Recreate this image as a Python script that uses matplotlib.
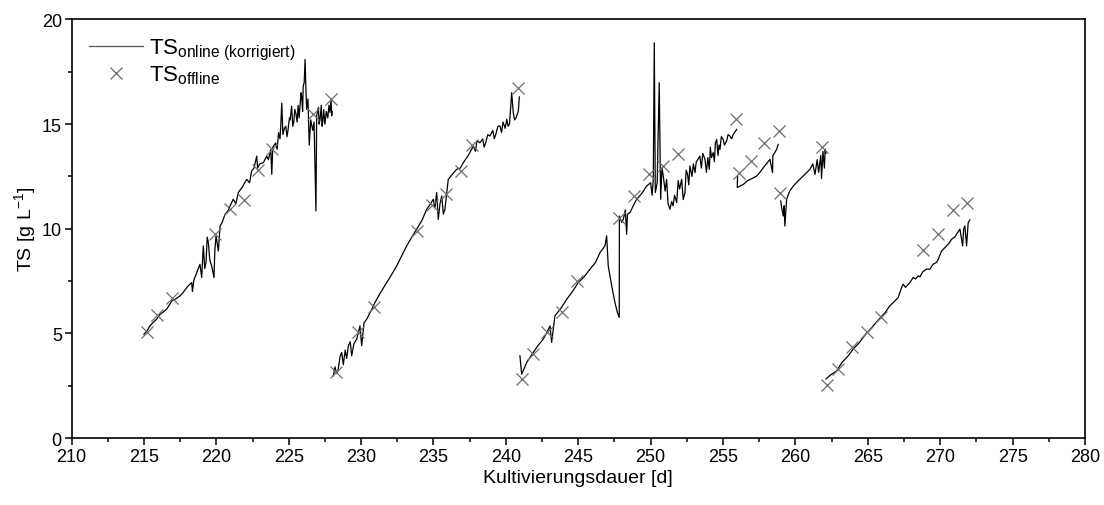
import numpy as np
import matplotlib.pyplot as plt
from matplotlib.ticker import MultipleLocator

plt.rcParams['font.family'] = ['Liberation Sans', 'DejaVu Sans']
plt.rcParams['mathtext.fontset'] = 'custom'
plt.rcParams['mathtext.rm'] = 'Liberation Sans'
plt.rcParams['mathtext.it'] = 'Liberation Sans'

# online TS signal (corrected), one run per cultivation cycle
run1_day = [215.0, 215.19, 215.4, 215.6, 215.88, 216.1, 216.3, 216.57, 216.75, 216.92,
            217.2, 217.49, 217.7, 217.96, 218.1, 218.3, 218.35, 218.45, 218.65, 218.87,
            218.99, 219.1, 219.2, 219.29, 219.37, 219.45, 219.55, 219.68, 219.84, 219.9,
            219.98, 220.14, 220.26, 220.4, 220.6, 220.8, 220.95, 221.17, 221.35, 221.52,
            221.8, 222.1, 222.3, 222.44, 222.6, 222.79, 222.85, 223.0, 223.25, 223.48,
            223.6, 223.76, 223.83, 223.9, 224.1, 224.2, 224.3, 224.4, 224.45, 224.52,
            224.6, 224.7, 224.8, 224.88, 224.95, 225.05, 225.1, 225.2, 225.28, 225.35,
            225.42, 225.5, 225.58, 225.65, 225.72, 225.78, 225.85, 225.9, 225.96, 226.0,
            226.07, 226.13, 226.2, 226.24, 226.33, 226.42, 226.52, 226.66, 226.75, 226.88,
            226.93, 227.05, 227.1, 227.16, 227.25, 227.3, 227.35, 227.42, 227.5, 227.6,
            227.7, 227.78, 227.85, 227.92, 227.97, 228.0]
run1_ts = [4.96, 5.1, 5.35, 5.5, 5.68, 5.9, 6.0, 6.16, 6.35, 6.55,
           6.65, 6.79, 6.95, 7.19, 7.3, 7.43, 7.0, 7.55, 7.91, 8.3,
           7.67, 9.18, 8.1, 8.39, 9.6, 9.34, 8.5, 8.22, 7.67, 9.0,
           9.66, 8.94, 10.13, 10.3, 10.69, 10.85, 11.09, 11.41, 11.2, 11.73,
           12.0, 12.36, 12.2, 12.76, 12.9, 13.47, 12.9, 13.1, 13.16, 13.47,
           13.3, 13.79, 12.6, 13.9, 14.1, 13.8, 14.6, 14.3, 14.9, 16.0,
           14.5, 14.8, 14.9, 14.4, 14.7, 15.3, 15.2, 15.86, 14.9, 15.1,
           15.7, 15.5, 15.1, 15.9, 15.3, 15.86, 16.5, 16.3, 15.6, 16.8,
           17.0, 18.09, 16.4, 15.7, 16.2, 14.0, 15.2, 14.7, 15.1, 10.85,
           15.4, 15.8, 15.0, 15.2, 15.9, 14.9, 15.1, 15.7, 15.0, 15.6,
           15.3, 15.9, 15.56, 16.2, 15.4, 15.6]

run2_day = [228.08, 228.2, 228.3, 228.4, 228.55, 228.66, 228.77, 228.9, 229.0, 229.12,
            229.25, 229.35, 229.5, 229.7, 229.92, 230.04, 230.2, 230.39, 230.7, 230.96,
            231.3, 231.77, 232.1, 232.46, 232.8, 233.15, 233.5, 233.84, 234.2, 234.53,
            234.8, 234.99, 235.1, 235.22, 235.33, 235.45, 235.57, 235.68, 235.79, 236.02,
            236.3, 236.6, 236.85, 237.06, 237.4, 237.75, 237.9, 238.0, 238.21, 238.4,
            238.5, 238.6, 238.75, 238.9, 239.1, 239.2, 239.3, 239.45, 239.59, 239.7,
            239.8, 239.95, 240.06, 240.15, 240.25, 240.4, 240.51, 240.6, 240.7, 240.86,
            240.93]
run2_ts = [2.97, 3.4, 3.1, 3.2, 3.9, 4.09, 3.5, 4.2, 3.8, 4.41,
           4.6, 3.93, 4.5, 4.73, 5.36, 4.41, 5.5, 5.68, 6.1, 6.48,
           6.9, 7.43, 7.8, 8.22, 8.7, 9.18, 9.6, 9.98, 10.4, 10.93,
           11.2, 11.41, 11.0, 11.73, 10.45, 11.2, 11.57, 10.7, 10.93, 12.36,
           12.6, 12.84, 12.9, 13.16, 13.5, 13.95, 13.7, 14.2, 14.11, 14.3,
           13.9, 14.1, 14.5, 14.43, 14.7, 14.3, 14.5, 14.9, 14.91, 14.6,
           15.1, 14.8, 15.23, 14.9, 15.0, 16.5, 15.55, 15.2, 15.3, 15.62,
           16.3]

run3_day = [240.97, 241.09, 241.25, 241.44, 241.89, 242.2, 242.58, 242.8, 243.05, 243.16,
            243.39, 243.8, 244.2, 244.6, 245.0, 245.4, 245.81, 246.2, 246.5, 246.84,
            246.96, 247.07, 247.31, 247.53, 247.7, 247.83, 247.84, 248.0, 248.11, 248.25,
            248.34, 248.4, 248.57, 248.8, 249.03, 249.4, 249.72, 250.0, 250.1, 250.18,
            250.25, 250.32, 250.45, 250.59, 250.69, 250.78, 250.87, 251.0, 251.1, 251.2,
            251.33, 251.45, 251.55, 251.65, 251.8, 251.9, 252.0, 252.14, 252.25, 252.37,
            252.45, 252.55, 252.63, 252.71, 252.85, 252.95, 253.06, 253.15, 253.25, 253.4,
            253.5, 253.6, 253.75, 253.85, 253.95, 254.05, 254.12, 254.2, 254.32, 254.4,
            254.47, 254.56, 254.65, 254.72, 254.79, 254.88, 255.01, 255.1, 255.25, 255.35,
            255.48, 255.6, 255.7, 255.8, 255.94]
run3_ts = [3.93, 3.05, 3.3, 3.61, 4.09, 4.4, 4.73, 5.0, 5.36, 4.57,
           5.84, 6.2, 6.63, 7.0, 7.43, 7.7, 8.07, 8.4, 8.86, 9.18,
           9.66, 8.22, 7.27, 6.48, 6.0, 5.76, 10.61, 10.3, 10.45, 10.9,
           9.74, 10.7, 10.77, 11.1, 11.41, 11.7, 12.04, 12.2, 11.6, 12.36,
           18.89, 11.73, 12.2, 16.98, 11.41, 12.9, 12.52, 11.8, 12.36, 11.2,
           10.93, 11.3, 11.1, 11.6, 11.25, 12.3, 11.9, 12.36, 11.4, 11.73,
           12.8, 12.6, 12.1, 13.0, 12.5, 13.1, 12.68, 13.2, 13.3, 13.47,
           12.9, 13.6, 13.32, 12.7, 13.4, 12.84, 13.9, 13.4, 13.64, 13.2,
           14.1, 14.27, 13.5, 14.0, 13.79, 14.4, 14.27, 14.0, 14.2, 14.5,
           14.43, 14.3, 14.5, 14.6, 14.75]

run3b_day = [256.0, 255.98, 256.2, 256.4, 256.7, 257.0, 257.32, 257.55, 257.78, 258.0,
             258.24, 258.42, 258.44, 258.58, 258.7, 258.81]
run3b_ts = [12.5, 11.97, 12.05, 12.12, 12.3, 12.4, 12.52, 12.7, 12.92, 13.1,
            13.32, 12.68, 13.5, 13.64, 13.8, 14.03]

run3c_day = [258.98, 259.05, 259.16, 259.22, 259.27, 259.39, 259.6, 259.85, 260.2, 260.54,
             260.8, 261.0, 261.2, 261.35, 261.5, 261.6, 261.75, 261.8, 261.9, 262.0,
             262.05, 262.1]
run3c_ts = [11.33, 11.0, 10.61, 11.1, 10.13, 11.41, 11.8, 12.04, 12.3, 12.52,
            12.7, 12.84, 13.1, 12.6, 13.3, 12.7, 13.5, 12.4, 13.7, 12.9,
            13.8, 13.6]

run4_day = [262.11, 262.4, 262.85, 263.2, 263.65, 263.99, 264.4, 264.8, 265.3, 265.88,
            266.2, 266.52, 266.8, 267.1, 267.33, 267.44, 267.6, 267.91, 268.13, 268.3,
            268.48, 268.6, 268.8, 269.06, 269.29, 269.5, 269.75, 269.9, 270.09, 270.21,
            270.44, 270.6, 270.79, 271.0, 271.13, 271.36, 271.45, 271.55, 271.62, 271.7,
            271.82, 271.93, 272.05]
run4_ts = [2.82, 3.0, 3.21, 3.6, 3.93, 4.25, 4.55, 4.92, 5.3, 5.76,
           6.0, 6.32, 6.5, 6.72, 7.19, 7.35, 7.2, 7.43, 7.67, 7.6,
           7.75, 7.7, 7.95, 8.07, 8.07, 8.3, 8.39, 8.6, 8.94, 9.02,
           9.18, 9.3, 9.5, 9.6, 9.74, 9.98, 9.6, 9.18, 10.0, 10.13,
           9.18, 10.29, 10.42]

# offline TS reference samples
offline_day = [215.19, 215.88, 216.92, 219.91, 220.95, 221.91, 222.9, 223.83, 226.7, 227.9,
               228.27, 229.81, 230.89, 233.84, 234.88, 235.86, 236.88, 237.64, 240.86,
               241.09, 241.85, 242.82, 243.85, 244.89, 247.83, 248.85, 249.9, 250.87, 251.86,
               255.89, 256.12, 256.91, 257.84, 258.88, 258.93, 261.83,
               262.15, 262.91, 263.88, 264.92, 265.88, 268.8, 269.85, 270.86, 271.87]
offline_ts = [5.07, 5.89, 6.68, 9.77, 10.96, 11.36, 12.79, 13.79, 15.47, 16.18,
              3.14, 5.05, 6.27, 9.9, 11.12, 11.65, 12.76, 13.99, 16.74,
              2.82, 4.01, 5.05, 6.03, 7.51, 10.53, 11.57, 12.6, 13.0, 13.59,
              15.23, 12.68, 13.24, 14.08, 14.67, 11.73, 13.89,
              2.53, 3.29, 4.33, 5.05, 5.79, 8.97, 9.74, 10.9, 11.22]

runs = [(run1_day, run1_ts), (run2_day, run2_ts), (run3_day, run3_ts),
        (run3b_day, run3b_ts), (run3c_day, run3c_ts), (run4_day, run4_ts)]

fig = plt.figure(figsize=(11.04, 5.06), dpi=100)
ax = fig.add_axes([0.0648, 0.1324, 0.918, 0.8271])

for i, (d, v) in enumerate(runs):
    ax.plot(d, v, '-', color='black', lw=0.9,
            label=r'TS$_{\mathregular{online\ (korrigiert)}}$' if i == 0 else None)
ax.plot(offline_day, offline_ts, 'x', color='#6e6e6e', ms=9, mew=0.9,
        label=r'TS$_{\mathregular{offline}}$')

ax.set_xlim(210, 280)
ax.set_ylim(0, 20)
ax.xaxis.set_major_locator(MultipleLocator(5))
ax.xaxis.set_minor_locator(MultipleLocator(2.5))
ax.yaxis.set_major_locator(MultipleLocator(5))
ax.yaxis.set_minor_locator(MultipleLocator(2.5))
ax.tick_params(which='both', direction='out', top=False, right=False, labelsize=13,
               width=1.1, pad=2)
ax.tick_params(which='major', length=5)
ax.tick_params(which='minor', length=3)
for s in ax.spines.values():
    s.set_linewidth(1.2)

ax.set_xlabel('Kultivierungsdauer [d]', fontsize=14, labelpad=3)
ax.set_ylabel(r'TS [g L$^{\mathregular{-1}}$]', fontsize=14, labelpad=3)

leg = ax.legend(loc='upper left', frameon=False, fontsize=16, handlelength=2.4,
                borderaxespad=0.4, labelspacing=0.05, handletextpad=0.3)
leg.get_lines()[0].set_color('#555555')

fig.savefig('out.png', dpi=100)
